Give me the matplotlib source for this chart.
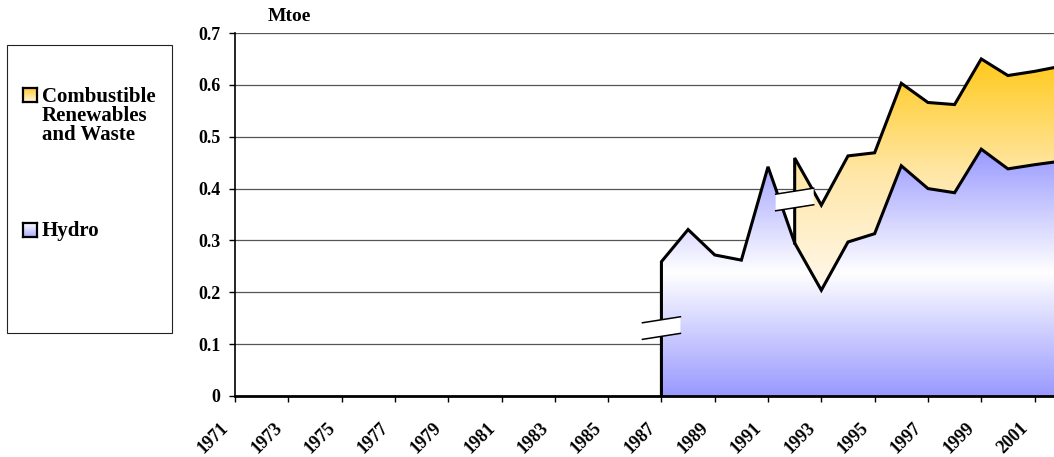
import numpy as np
import matplotlib
matplotlib.use("Agg")
import matplotlib.pyplot as plt
import matplotlib.transforms as mtransforms
from matplotlib.colors import LinearSegmentedColormap
from matplotlib.patches import Polygon, Rectangle

# ---- data (Mtoe) ----
year_ticks = list(range(1971, 2002, 2))
hydro_years = list(range(1987, 2003))
hydro = [0.259, 0.321, 0.272, 0.262, 0.442, 0.295, 0.204, 0.297,
         0.313, 0.444, 0.400, 0.392, 0.476, 0.438, 0.446, 0.453]
crw_years = list(range(1992, 2003))
crw = [0.164, 0.164, 0.166, 0.156, 0.159, 0.166, 0.170, 0.174,
       0.180, 0.180, 0.183]
y_ticks = [0, 0.1, 0.2, 0.3, 0.4, 0.5, 0.6, 0.7]
y_labels = ["0", "0.1", "0.2", "0.3", "0.4", "0.5", "0.6", "0.7"]
crw_label_lines = ["Combustible", "Renewables", "and Waste"]
hydro_label = "Hydro"

W, H = 1054, 457
FONT = "Liberation Serif"
plt.rcParams["font.family"] = [FONT, "DejaVu Serif"]
plt.rcParams["font.weight"] = "bold"

fig = plt.figure(figsize=(W / 100, H / 100), dpi=100)
ax = fig.add_axes([235 / W, (H - 396) / H, (W - 235) / W, (396 - 33) / H])
ax.set_zorder(2)

hydro_cmap = LinearSegmentedColormap.from_list("hydro", ["#9999FF", "#FFFFFF", "#9999FF"])
crw_cmap = LinearSegmentedColormap.from_list("crw", ["#FFF8EC", "#FFE7A8", "#FFC91A"])
grad = np.linspace(0, 1, 256).reshape(-1, 1)

# hydro area with vertical gradient
h = np.array(hydro)
hfill = ax.fill_between(hydro_years, 0, h, facecolor="none", edgecolor="none", zorder=2)
im = ax.imshow(grad, extent=[hydro_years[0], hydro_years[-1], 0, h.max()],
               origin="lower", aspect="auto", cmap=hydro_cmap, zorder=2)
im.set_clip_path(hfill.get_paths()[0], transform=ax.transData)

# combustible renewables stacked on hydro
base = h[hydro_years.index(crw_years[0]):]
top = base + np.array(crw)
cfill = ax.fill_between(crw_years, base, top, facecolor="none", edgecolor="none", zorder=2)
im2 = ax.imshow(grad, extent=[crw_years[0], crw_years[-1], base.min(), top.max()],
                origin="lower", aspect="auto", cmap=crw_cmap, zorder=2)
im2.set_clip_path(cfill.get_paths()[0], transform=ax.transData)
ax.set_xlim(1971, 2001.73)
ax.set_ylim(0, 0.7)

line_kw = dict(color="black", lw=2.2, solid_joinstyle="miter", zorder=4)
ax.plot([hydro_years[0]] + hydro_years, [0] + hydro, **line_kw)
ax.plot([crw_years[0]] + crw_years, [base[0]] + list(top), **line_kw)


def series_break(xc, yc):
    """Small slanted break symbol centred on a data position (offsets in inches)."""
    tr = fig.dpi_scale_trans + mtransforms.ScaledTranslation(xc, yc, ax.transData)
    hw, gap, rise = 0.19, 0.083, 0.03
    verts = [(-hw, -rise + gap), (hw, rise + gap), (hw, rise - gap), (-hw, -rise - gap)]
    ax.add_patch(Polygon(verts, closed=True, facecolor="white", edgecolor="none",
                         transform=tr, zorder=5, clip_on=False))
    for s in (1, -1):
        ax.plot([-hw, hw], [-rise + s * gap, rise + s * gap], color="black",
                lw=1.1, transform=tr, zorder=6, clip_on=False)


series_break(hydro_years[0], 0.131)
series_break(crw_years[0], 0.379)

# axes styling
for side in ("top", "right"):
    ax.spines[side].set_visible(False)
ax.spines["left"].set_linewidth(1.2)
ax.spines["bottom"].set_linewidth(2.0)
ax.spines["left"].set_zorder(7)
ax.spines["bottom"].set_zorder(7)
ax.yaxis.grid(True, color="#555555", lw=0.9, zorder=1)
ax.set_axisbelow(True)

ax.set_yticks(y_ticks)
ax.set_yticklabels(y_labels, fontsize=13, fontweight="bold")
ax.tick_params(axis="y", length=4.3, width=1, pad=6)
ax.set_xticks(year_ticks)
ax.set_xticklabels([str(y) for y in year_ticks], fontsize=13, fontweight="bold",
                   rotation=45, ha="right", va="center", rotation_mode="anchor")
ax.tick_params(axis="x", length=4, width=1, pad=0)
off = mtransforms.ScaledTranslation(-0.09, -0.235, fig.dpi_scale_trans)
for lab in ax.get_xticklabels():
    lab.set_transform(lab.get_transform() + off)

fig.text(268 / W, 1 - 21 / H, "Mtoe", fontsize=14, fontweight="bold",
         ha="left", va="baseline")

# legend panel
fig.patches.append(Rectangle((7 / W, 1 - 333 / H), 165 / W, 288 / H,
                             transform=fig.transFigure, facecolor="white",
                             edgecolor="#222222", lw=0.8, zorder=0))


def legend_square(cmap, y_top):
    sq = fig.add_axes([23 / W, 1 - (y_top + 14) / H, 14 / W, 14 / H])
    sq.set_zorder(3)
    sq.imshow(grad, cmap=cmap, aspect="auto", origin="lower", extent=[0, 1, 0, 1])
    sq.set_xticks([])
    sq.set_yticks([])
    for sp in sq.spines.values():
        sp.set_linewidth(1.6)


legend_square(LinearSegmentedColormap.from_list("lc", ["#FFF6E0", "#FFC933"]), 88)
legend_square(LinearSegmentedColormap.from_list("lh", ["#A9A9FA", "#FFFFFF"]), 223)
for text, base_y in zip(crw_label_lines, (102, 121, 140)):
    fig.text(42 / W, 1 - base_y / H, text, fontsize=15, fontweight="bold",
             ha="left", va="baseline")
fig.text(42 / W, 1 - 236 / H, hydro_label, fontsize=15, fontweight="bold",
         ha="left", va="baseline")

fig.savefig("out.png", dpi=100)
